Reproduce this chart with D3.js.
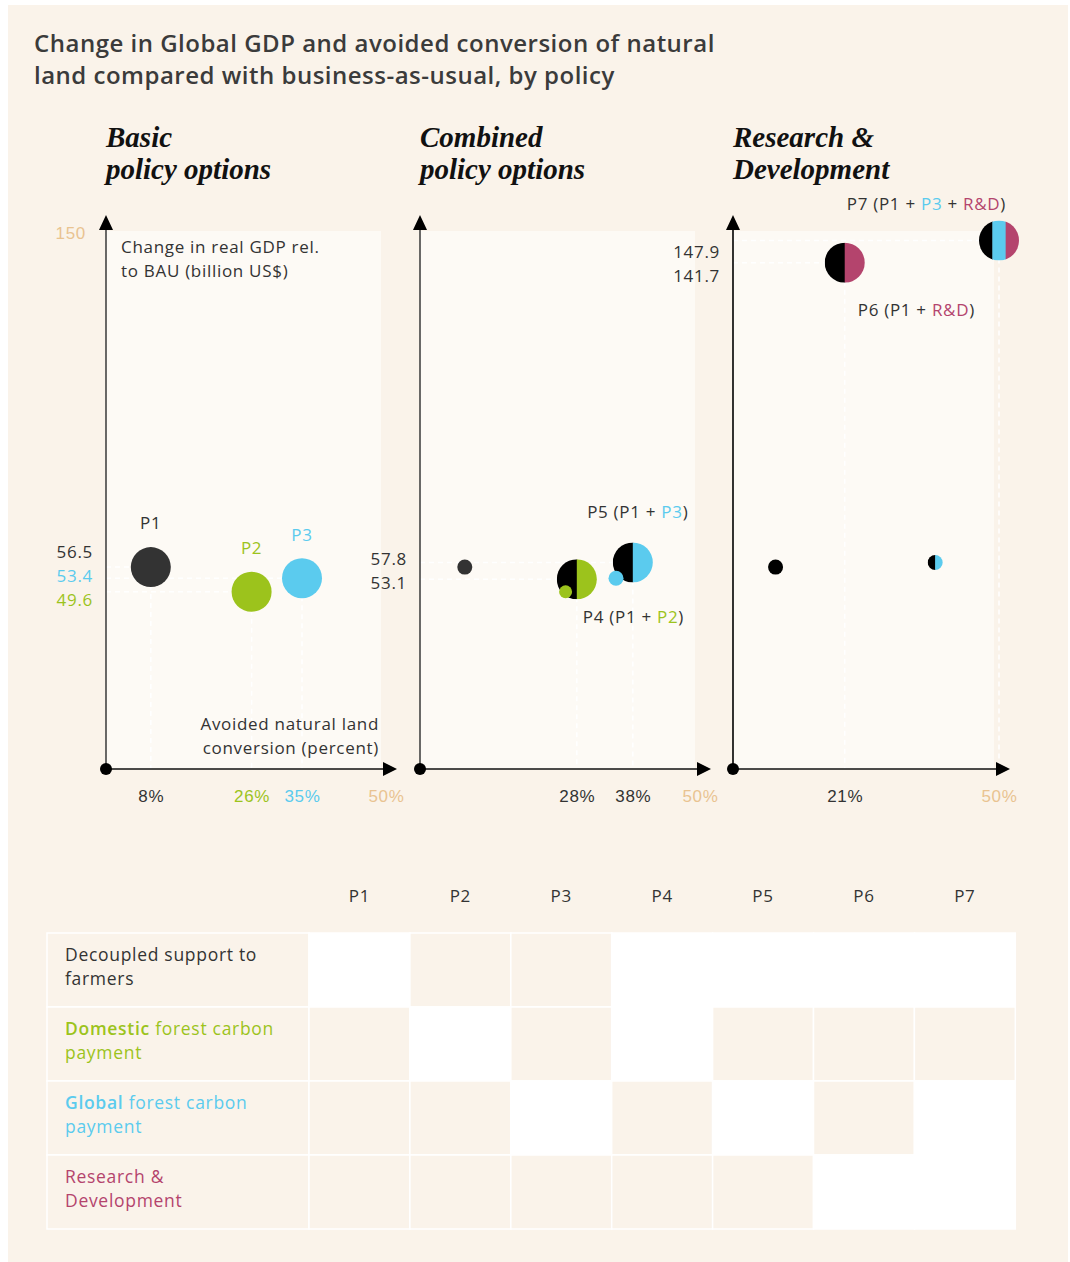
<!DOCTYPE html>
<html>
<head>
<meta charset="utf-8">
<script src="https://cdn.jsdelivr.net/npm/d3@7"></script>
<style>
  body { margin: 0; background: #fff; }
  svg { display: block; font-family: "Open Sans", "Noto Sans", sans-serif; }
  .title { font-size: 24px; font-weight: 600; fill: #3b3b3b; letter-spacing: 0.5px; }
  .panel-title { font-family: "Liberation Serif", serif; font-style: italic; font-weight: 700; font-size: 29px; fill: #111; letter-spacing: 0; }
  .note, .tick text { font-size: 17px; font-weight: 400; fill: #333; letter-spacing: 0.7px; }
</style>
</head>
<body>
<div id="chart"></div>
<script>
// ---- data ----
const policies = ["P1", "P2", "P3", "P4", "P5", "P6", "P7"];
const landAvoided = [8, 26, 35, 28, 38, 21, 50]; // percent
const gdpChange = [56.5, 49.6, 53.4, 53.1, 57.8, 141.7, 147.9]; // billion US$
const mixes = [
  ["farm"],
  ["dom"],
  ["glob"],
  ["farm", "dom"],
  ["farm", "glob"],
  ["farm", "rd"],
  ["farm", "glob", "rd"],
];
const instruments = ["farm", "dom", "glob", "rd"];
const instrumentLabels = [
  [["Decoupled support to", false], ["farmers", false]],
  [["Domestic", true, " forest carbon"], ["payment", false]],
  [["Global", true, " forest carbon"], ["payment", false]],
  [["Research &", false], ["Development", false]],
];
const pointLabels = {
  P1: [["P1", "farm"]],
  P2: [["P2", "dom"]],
  P3: [["P3", "glob"]],
  P4: [["P4 (P1 + ", null], ["P2", "dom"], [")", null]],
  P5: [["P5 (P1 + ", null], ["P3", "glob"], [")", null]],
  P6: [["P6 (P1 + ", null], ["R&D", "rd"], [")", null]],
  P7: [["P7 (P1 + ", null], ["P3", "glob"], [" + ", null], ["R&D", "rd"], [")", null]],
};
const panelTitles = [
  ["Basic", "policy options"],
  ["Combined", "policy options"],
  ["Research &", "Development"],
];
const panelMain = [["P1", "P2", "P3"], ["P4", "P5"], ["P6", "P7"]];
const panelRefs = [[], ["P1", "P2", "P3"], ["P1", "P5"]];
const xMax = 50;
const yMax = 150;

// ---- styling ----
const colors = {
  farm: "#000",
  dom: "#9cc31c",
  glob: "#5bcbee",
  rd: "#b4446d",
  text: "#333",
  tan: "#e9c391",
  bg: "#faf3ea",
  plot: "#fdfaf5",
};
const width = 1070;
const height = 1262;

// per-panel layout
const panels = [
  { x0: 106, x1: 386, axisColor: "#444", labelShift: -3 },
  { x0: 420, x1: 700, axisColor: "#444", labelShift: 0 },
  { x0: 733, x1: 999, axisColor: "#000", labelShift: 12 },
];
const plotTop = 231;
const plotBottom = 769;
const y = d3.scaleLinear().domain([0, yMax]).range([plotBottom, 233]);

// label placement relative to a point: [anchor, dx, dy]
const labelPlace = {
  P1: ["middle", 0, -38],
  P2: ["middle", 0, -38],
  P3: ["middle", 0, -37],
  P4: ["start", 6, 44],
  P5: ["middle", 5, -44],
  P6: ["start", 13, 53],
  P7: ["end", 7, -31],
};

const svg = d3
  .select("#chart")
  .append("svg")
  .attr("width", width)
  .attr("height", height);

const defs = svg.append("defs");

svg
  .append("rect")
  .attr("x", 8)
  .attr("y", 5)
  .attr("width", 1060)
  .attr("height", height - 5)
  .attr("fill", colors.bg);

svg
  .append("text")
  .attr("class", "title")
  .selectAll("tspan")
  .data([
    "Change in Global GDP and avoided conversion of natural",
    "land compared with business-as-usual, by policy",
  ])
  .join("tspan")
  .attr("x", 34)
  .attr("y", (d, i) => 52 + i * 32)
  .text((d) => d);

function idx(p) {
  return policies.indexOf(p);
}

function mixColor(key) {
  return key ? colors[key] : colors.text;
}

function drawDisc(g, cx, cy, r, mix, solidColor, id) {
  if (mix.length === 1) {
    g.append("circle")
      .attr("cx", cx)
      .attr("cy", cy)
      .attr("r", r)
      .attr("fill", solidColor || colors[mix[0]]);
    return;
  }
  defs
    .append("clipPath")
    .attr("id", id)
    .append("circle")
    .attr("cx", cx)
    .attr("cy", cy)
    .attr("r", r);
  const w = (2 * r) / mix.length;
  g.append("g")
    .attr("clip-path", `url(#${id})`)
    .selectAll("rect")
    .data(mix)
    .join("rect")
    .attr("x", (d, i) => cx - r + i * w)
    .attr("y", cy - r)
    .attr("width", w + 0.5)
    .attr("height", 2 * r)
    .attr("fill", (d) => colors[d]);
}

panels.forEach((panel, pi) => {
  const x = d3.scaleLinear().domain([0, xMax]).range([panel.x0, panel.x1]);
  const g = svg.append("g");

  // plot background
  g.append("rect")
    .attr("x", panel.x0)
    .attr("y", plotTop)
    .attr("width", panel.x1 - 5 - panel.x0)
    .attr("height", plotBottom - plotTop)
    .attr("fill", colors.plot);

  // panel title
  g.append("text")
    .attr("class", "panel-title")
    .selectAll("tspan")
    .data(panelTitles[pi])
    .join("tspan")
    .attr("x", panel.x0)
    .attr("y", (d, i) => 147 + i * 32)
    .text((d) => d);

  const main = panelMain[pi];
  const refs = panelRefs[pi];

  // dashed guides
  const guides = g
    .append("g")
    .attr("stroke", "#fff")
    .attr("stroke-width", 1.5)
    .attr("stroke-dasharray", "5,4");
  main.forEach((p) => {
    const i = idx(p);
    guides
      .append("line")
      .attr("x1", x(0))
      .attr("x2", x(landAvoided[i]))
      .attr("y1", y(gdpChange[i]))
      .attr("y2", y(gdpChange[i]));
    guides
      .append("line")
      .attr("x1", x(landAvoided[i]))
      .attr("x2", x(landAvoided[i]))
      .attr("y1", y(gdpChange[i]))
      .attr("y2", y(0));
  });

  // axes lines with arrows
  g.append("line")
    .attr("x1", x(0))
    .attr("x2", x(0))
    .attr("y1", y(0))
    .attr("y2", 226)
    .attr("stroke", panel.axisColor)
    .attr("stroke-width", 1.6);
  g.append("path")
    .attr("d", `M${x(0) - 7},230L${x(0)},215L${x(0) + 7},230Z`)
    .attr("fill", "#000");
  g.append("line")
    .attr("x1", x(0))
    .attr("x2", panel.x1 + 6)
    .attr("y1", y(0))
    .attr("y2", y(0))
    .attr("stroke", "#111")
    .attr("stroke-width", 1.6);
  g.append("path")
    .attr(
      "d",
      `M${panel.x1 - 3},${y(0) - 7}L${panel.x1 + 11},${y(0)}L${panel.x1 - 3},${y(0) + 7}Z`
    )
    .attr("fill", "#000");
  g.append("circle")
    .attr("cx", x(0))
    .attr("cy", y(0))
    .attr("r", 6)
    .attr("fill", "#000");

  // x tick labels
  const xTicks = main.map((p) => landAvoided[idx(p)]);
  if (!xTicks.includes(xMax)) xTicks.push(xMax);
  const xAxisG = g
    .append("g")
    .attr("transform", `translate(0,${y(0)})`)
    .call(
      d3
        .axisBottom(x)
        .tickValues(xTicks)
        .tickFormat((d) => d + "%")
        .tickSize(0)
        .tickPadding(21)
    );
  xAxisG.select(".domain").remove();
  xAxisG
    .selectAll(".tick text")
    .attr("font-family", null)
    .style("fill", (d) => {
      if (d === xMax) return colors.tan;
      const p = main.find((m) => landAvoided[idx(m)] === d);
      const mix = mixes[idx(p)];
      return mix.length === 1 && mix[0] !== "farm" ? colors[mix[0]] : colors.text;
    });

  // y top label (first panel only)
  if (pi === 0) {
    const yAxisG = g
      .append("g")
      .attr("transform", `translate(${x(0)},0)`)
      .call(d3.axisLeft(y).tickValues([yMax]).tickSize(0).tickPadding(20));
    yAxisG.select(".domain").remove();
    yAxisG.selectAll(".tick text").attr("font-family", null).style("fill", colors.tan);

    g.append("text")
      .attr("class", "note")
      .selectAll("tspan")
      .data(["Change in real GDP rel.", "to BAU (billion US$)"])
      .join("tspan")
      .attr("x", 121)
      .attr("y", (d, i) => 253 + i * 24)
      .text((d) => d);
    g.append("text")
      .attr("class", "note")
      .attr("text-anchor", "end")
      .selectAll("tspan")
      .data(["Avoided natural land", "conversion (percent)"])
      .join("tspan")
      .attr("x", 379)
      .attr("y", (d, i) => 730 + i * 24)
      .text((d) => d);
  }

  // stacked y value labels
  const sorted = main.slice().sort((a, b) => gdpChange[idx(b)] - gdpChange[idx(a)]);
  const mid =
    d3.mean(sorted, (p) => y(gdpChange[idx(p)])) + panel.labelShift;
  g.append("g")
    .selectAll("text")
    .data(sorted)
    .join("text")
    .attr("class", "note")
    .attr("text-anchor", "end")
    .attr("x", x(0) - 13)
    .attr("y", (d, i) => mid + (i - (sorted.length - 1) / 2) * 24)
    .attr("dy", "0.35em")
    .style("fill", (d) => {
      const mix = mixes[idx(d)];
      return mix.length === 1 && mix[0] !== "farm" ? colors[mix[0]] : colors.text;
    })
    .text((d) => gdpChange[idx(d)].toFixed(1));

  // main discs
  main.forEach((p) => {
    const i = idx(p);
    drawDisc(
      g,
      x(landAvoided[i]),
      y(gdpChange[i]),
      20,
      mixes[i],
      p === "P1" ? "#333" : null,
      `clip-main-${p}`
    );
  });

  // reference dots
  refs.forEach((p) => {
    const i = idx(p);
    drawDisc(
      g,
      x(landAvoided[i]),
      y(gdpChange[i]),
      p === "P2" ? 6.5 : 7.5,
      mixes[i],
      p === "P1" && pi === 1 ? "#333" : null,
      `clip-ref-${pi}-${p}`
    );
  });

  // point labels
  main.forEach((p) => {
    const i = idx(p);
    const [anchor, dx, dy] = labelPlace[p];
    g.append("text")
      .attr("class", "note")
      .attr("text-anchor", anchor)
      .attr("x", x(landAvoided[i]) + dx)
      .attr("y", y(gdpChange[i]) + dy)
      .selectAll("tspan")
      .data(pointLabels[p])
      .join("tspan")
      .style("fill", (d) =>
        pi === 0 ? (d[1] === "farm" ? colors.text : colors[d[1]]) : mixColor(d[1] === "farm" ? null : d[1])
      )
      .style("white-space", "pre")
      .text((d) => d[0]);
  });
});

// ---- table ----
const table = {
  left: 47,
  labelWidth: 262,
  colWidth: 100.9,
  top: 933,
  rowHeight: 74,
};
const t = svg.append("g");

t.selectAll(".col-head")
  .data(policies)
  .join("text")
  .attr("class", "note col-head")
  .attr("text-anchor", "middle")
  .attr("x", (d, i) => table.left + table.labelWidth + (i + 0.5) * table.colWidth)
  .attr("y", 896)
  .attr("dy", "0.35em")
  .text((d) => d);

instruments.forEach((inst, r) => {
  const ry = table.top + r * table.rowHeight;
  t.append("rect")
    .attr("x", table.left)
    .attr("y", ry)
    .attr("width", table.labelWidth)
    .attr("height", table.rowHeight)
    .attr("fill", colors.bg)
    .attr("stroke", "#fff")
    .attr("stroke-width", 1.5);

  t.selectAll(null)
    .data(policies)
    .join("rect")
    .attr("x", (d, i) => table.left + table.labelWidth + i * table.colWidth)
    .attr("y", ry)
    .attr("width", table.colWidth)
    .attr("height", table.rowHeight)
    .attr("fill", (d, i) => (mixes[i].includes(inst) ? "#fff" : colors.bg))
    .attr("stroke", "#fff")
    .attr("stroke-width", 1.5);

  const c = inst === "farm" ? colors.text : colors[inst];
  const label = t
    .append("text")
    .attr("class", "note")
    .style("font-size", "17.5px")
    .style("fill", c);
  instrumentLabels[r].forEach((line, li) => {
    label
      .append("tspan")
      .attr("x", 65)
      .attr("y", ry + 22 + li * 24)
      .attr("dy", "0.35em")
      .style("font-weight", line[1] ? 600 : 400)
      .text(line[0]);
    if (line[2]) label.append("tspan").style("font-weight", 400).style("white-space", "pre").text(line[2]);
  });
});
</script>
</body>
</html>
